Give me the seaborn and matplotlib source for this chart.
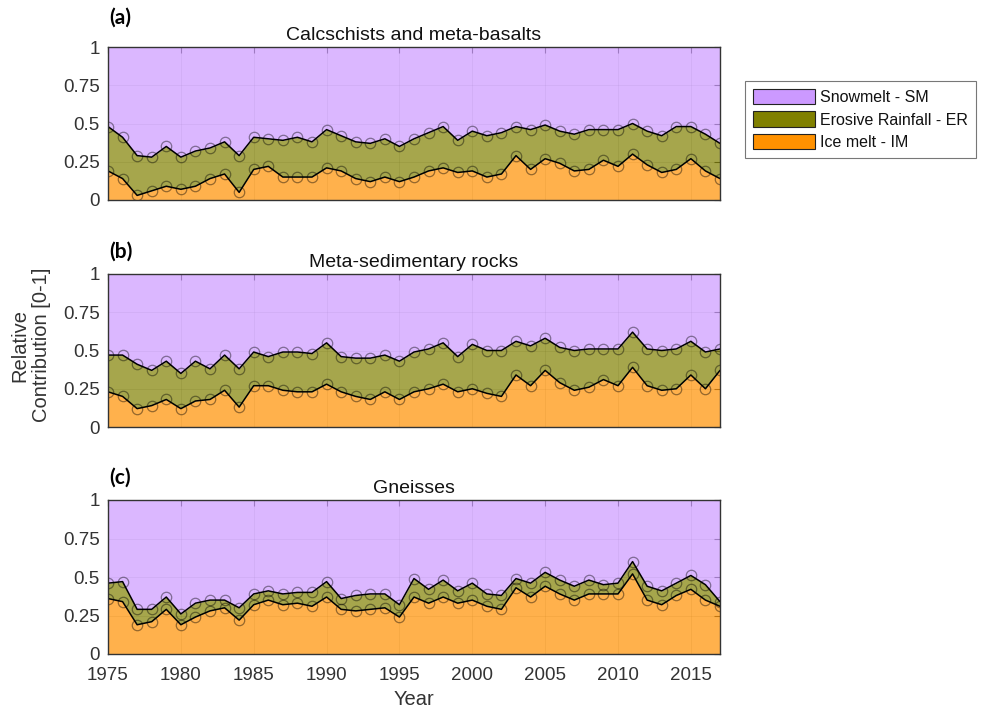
import numpy as np
import pandas as pd
import matplotlib
matplotlib.use("Agg")
import matplotlib.pyplot as plt
from matplotlib.patches import Patch
import seaborn as sns

# Years covered by the reconstruction
years = list(range(1975, 2018))

# Relative contribution of each source per lithology (fractions, sum to 1 with snowmelt)
titles = ["Calcschists and meta-basalts", "Meta-sedimentary rocks", "Gneisses"]
panel_tags = ["(a)", "(b)", "(c)"]

ice_melt_a = [0.19, 0.14, 0.03, 0.06, 0.09, 0.07, 0.09, 0.14, 0.17, 0.05, 0.20, 0.22, 0.15, 0.15,
              0.15, 0.21, 0.19, 0.14, 0.12, 0.15, 0.12, 0.15, 0.19, 0.21, 0.18, 0.19, 0.15, 0.17,
              0.29, 0.20, 0.27, 0.24, 0.19, 0.20, 0.26, 0.22, 0.30, 0.23, 0.18, 0.20, 0.27, 0.19, 0.14]
rainfall_a = [0.29, 0.27, 0.26, 0.22, 0.26, 0.21, 0.23, 0.20, 0.21, 0.24, 0.21, 0.18, 0.24, 0.26,
              0.23, 0.25, 0.23, 0.24, 0.25, 0.25, 0.23, 0.25, 0.25, 0.27, 0.21, 0.26, 0.27, 0.27,
              0.19, 0.26, 0.22, 0.21, 0.24, 0.26, 0.20, 0.24, 0.20, 0.22, 0.24, 0.28, 0.21, 0.24, 0.23]

ice_melt_b = [0.23, 0.20, 0.12, 0.14, 0.18, 0.12, 0.17, 0.18, 0.24, 0.13, 0.27, 0.27, 0.24, 0.23,
              0.23, 0.28, 0.23, 0.20, 0.18, 0.23, 0.18, 0.23, 0.25, 0.28, 0.23, 0.25, 0.22, 0.20,
              0.34, 0.27, 0.37, 0.29, 0.24, 0.26, 0.31, 0.27, 0.39, 0.27, 0.24, 0.25, 0.34, 0.25, 0.37]
rainfall_b = [0.24, 0.27, 0.29, 0.23, 0.25, 0.23, 0.26, 0.20, 0.23, 0.25, 0.22, 0.19, 0.25, 0.26,
              0.25, 0.27, 0.23, 0.25, 0.27, 0.24, 0.25, 0.26, 0.26, 0.27, 0.23, 0.29, 0.28, 0.30,
              0.22, 0.26, 0.21, 0.23, 0.26, 0.25, 0.20, 0.24, 0.23, 0.24, 0.26, 0.26, 0.22, 0.24, 0.14]

ice_melt_c = [0.36, 0.34, 0.19, 0.21, 0.29, 0.19, 0.24, 0.28, 0.30, 0.22, 0.32, 0.35, 0.32, 0.33,
              0.31, 0.37, 0.29, 0.28, 0.29, 0.30, 0.24, 0.37, 0.33, 0.37, 0.33, 0.35, 0.31, 0.29,
              0.43, 0.37, 0.44, 0.39, 0.35, 0.39, 0.39, 0.39, 0.52, 0.35, 0.32, 0.38, 0.42, 0.35, 0.31]
rainfall_c = [0.10, 0.13, 0.10, 0.08, 0.08, 0.07, 0.09, 0.07, 0.05, 0.08, 0.07, 0.06, 0.07, 0.07,
              0.09, 0.10, 0.07, 0.10, 0.10, 0.09, 0.08, 0.12, 0.09, 0.11, 0.08, 0.11, 0.08, 0.09,
              0.06, 0.09, 0.09, 0.09, 0.09, 0.09, 0.06, 0.07, 0.08, 0.09, 0.09, 0.08, 0.09, 0.10, 0.03]

source_labels = ["Snowmelt - SM", "Erosive Rainfall - ER", "Ice melt - IM"]
ytick_vals = [0, 0.25, 0.5, 0.75, 1]
ytick_text = ["0", "0.25", "0.5", "0.75", "1"]
xtick_vals = [1975, 1980, 1985, 1990, 1995, 2000, 2005, 2010, 2015]

c_sm = "#CC99FF"
c_er = "#808000"
c_im = "#FF9100"
ink = "#333333"

sns.set_theme(style="white")
plt.rcParams["font.family"] = ["Liberation Sans", "DejaVu Sans"]

fig = plt.figure(figsize=(9.87, 7.12), dpi=100)

W, H = 987, 712
left, right = 108, 720
panel_px = [(47, 200), (274, 427), (500, 654)]
tag_y = [18, 252, 478]

panels = [(ice_melt_a, rainfall_a), (ice_melt_b, rainfall_b), (ice_melt_c, rainfall_c)]

for i, ((im, er), (top, bot)) in enumerate(zip(panels, panel_px)):
    ax = fig.add_axes([left / W, 1 - bot / H, (right - left) / W, (bot - top) / H])
    df = pd.DataFrame({"Year": years, "IM": im, "ER": er})
    df["IM_ER"] = df["IM"] + df["ER"]
    df["SM"] = 1 - df["IM_ER"]

    ax.stackplot(df["Year"], df["IM"], df["ER"], df["SM"],
                 colors=[c_im, c_er, c_sm], alpha=0.7, linewidth=0, zorder=1)

    for col in ["IM", "IM_ER"]:
        sns.lineplot(data=df, x="Year", y=col, ax=ax, color="black", linewidth=1.1,
                     marker="o", markersize=7.5, markerfacecolor="none",
                     markeredgecolor=(0, 0, 0, 0.42), markeredgewidth=0.9, zorder=3)

    ax.set_xlim(1975, 2017)
    ax.set_ylim(0, 1)
    ax.set_yticks(ytick_vals)
    ax.set_yticklabels(ytick_text)
    ax.set_xticks(xtick_vals)
    ax.grid(True, color="#262626", alpha=0.15, linewidth=0.6)
    ax.set_axisbelow(True)
    ax.tick_params(direction="in", top=True, right=True, length=4, width=0.8,
                   color=ink, labelcolor=ink, labelsize=13.5)
    ax.tick_params(axis="y", pad=6)
    ax.tick_params(axis="x", pad=9)
    for s in ax.spines.values():
        s.set_color(ink)
        s.set_linewidth(1.0)
        s.set_zorder(5)
    ax.set_ylabel("")
    if i < 2:
        ax.set_xticklabels([])
        ax.set_xlabel("")
    else:
        ax.set_xlabel("Year", fontsize=14.5, color=ink, labelpad=5)
    ax.set_title(titles[i], fontsize=14, color="#111111", pad=5)
    fig.text(109 / W, 1 - tag_y[i] / H, panel_tags[i], fontsize=15, fontweight="bold",
             family=["Lato", "DejaVu Sans"], ha="left", va="center", color="black")

fig.text(31 / W, 1 - 345 / H, "Relative\nContribution [0-1]", rotation=90,
         ha="center", va="center", fontsize=14.5, color=ink, linespacing=1.15)

handles = [Patch(facecolor=c, edgecolor="#222222", linewidth=0.8) for c in [c_sm, c_er, c_im]]
leg = fig.legend(handles, source_labels, loc="upper left", bbox_to_anchor=(745 / W, 1 - 81 / H),
                 borderaxespad=0, frameon=True, fancybox=False, fontsize=11.5,
                 handlelength=3.9, handleheight=1.1, handletextpad=0.3,
                 labelspacing=0.4, borderpad=0.5)
leg.get_frame().set_edgecolor("#555555")
leg.get_frame().set_linewidth(0.8)
for t in leg.get_texts():
    t.set_color("#111111")

fig.savefig("out.png", dpi=100)
